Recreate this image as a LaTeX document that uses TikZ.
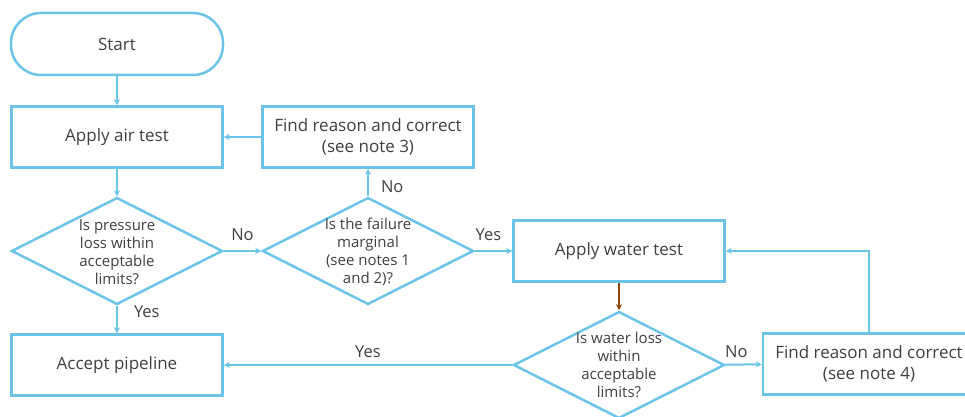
\documentclass[tikz,border=0pt]{standalone}
\usepackage{fontspec}
\setmainfont{Open Sans}
\usetikzlibrary{shapes.geometric,arrows.meta}
\definecolor{lb}{HTML}{6CC5E9}
\definecolor{tx}{HTML}{404040}
\definecolor{br}{HTML}{8B4513}
\begin{document}
\begin{tikzpicture}[x=1pt,y=-1pt,
  boxs/.style={draw=lb,line width=2.5pt,minimum width=211pt,minimum height=61pt,inner sep=0pt,text=tx,font=\fontsize{17}{21}\selectfont,align=center},
  term/.style={boxs,rounded corners=30pt,minimum height=62pt,minimum width=212pt},
  dia/.style={draw=lb,line width=2.5pt,shape=diamond,minimum width=211pt,minimum height=107pt,inner sep=0pt},
  dtext/.style={text=tx,font=\fontsize{15}{18}\selectfont,align=center},
  arr/.style={draw=lb,line width=2pt,-{Stealth[length=6pt,width=6pt]}},
  lab/.style={text=tx,font=\fontsize{16.5}{19}\selectfont,inner sep=0pt}]
\useasboundingbox (0,0) rectangle (965,417);
\clip (0,0) rectangle (965,417);
\node[term] (start) at (117,44) {Start};
\node[boxs] (air) at (117,137) {Apply air test};
\node[boxs] (f3) at (368,137) {Find reason and correct\\(see note 3)};
\node[dia] (d1) at (117,251) {};
\node[dtext] (t1) at (117,252) {Is pressure\\loss within\\acceptable\\limits?};
\node[dia] (d2) at (368,251) {};
\node[dtext] (t2) at (368,252) {Is the failure\\marginal\\(see notes 1\\and 2)?};
\node[boxs] (water) at (619,251) {Apply water test};
\node[dia] (d3) at (619,365) {};
\node[dtext] (t3) at (619,365) {Is water loss\\within\\acceptable\\limits?};
\node[boxs] (acc) at (117,365) {Accept pipeline};
\node[boxs,minimum width=212pt] (f4) at (869,364) {Find reason and correct\\(see note 4)};
\draw[arr] (start) -- (air);
\draw[arr] (f3) -- (air);
\draw[arr] (air) -- (d1);
\draw[arr] (d1) -- node[lab,above=9pt] (l1) {No} (d2);
\draw[arr] (d2) -- node[lab,right=12pt,yshift=-4pt] (l2) {No} (f3);
\draw[arr] (d2) -- node[lab,above=9pt,xshift=-5pt] (l3) {Yes} (water);
\draw[arr,draw=br,line width=1.5pt] (water) -- (d3);
\draw[arr] (d3) -- node[lab,above=6pt,xshift=-7pt] (l4) {No} (f4);
\draw[arr] (f4.north) |- (water.east);
\draw[arr] (d3) -- node[lab,above=6pt] (l5) {Yes} (acc);
\draw[arr] (d1) -- node[lab,right=16pt,yshift=8pt] (l6) {Yes} (acc);
\end{tikzpicture}
\end{document}
